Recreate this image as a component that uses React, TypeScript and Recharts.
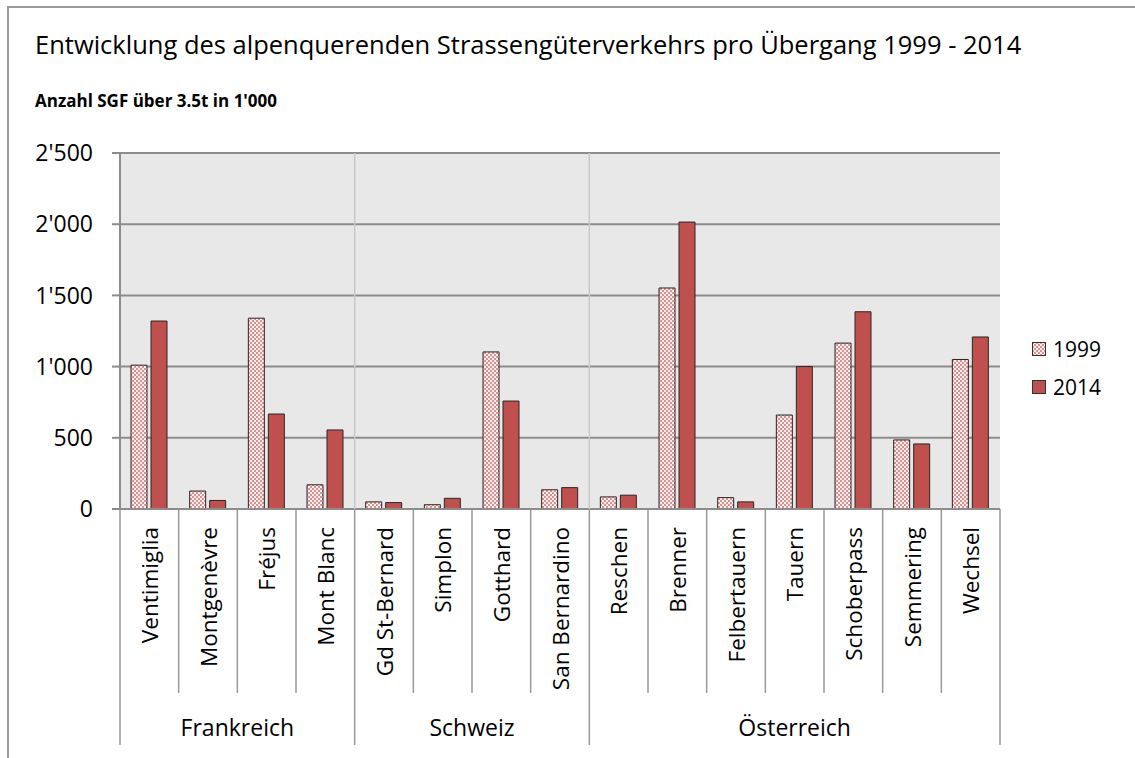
import React from "react";
import { BarChart, Bar, XAxis, YAxis, CartesianGrid, Legend } from "recharts";

const categories = [
  "Ventimiglia", "Montgenèvre", "Fréjus", "Mont Blanc",
  "Gd St-Bernard", "Simplon", "Gotthard", "San Bernardino",
  "Reschen", "Brenner", "Felbertauern", "Tauern", "Schoberpass", "Semmering", "Wechsel",
];
const groups = [
  { name: "Frankreich", size: 4 },
  { name: "Schweiz", size: 4 },
  { name: "Österreich", size: 7 },
];
const values1999 = [1010, 126, 1340, 170, 50, 30, 1103, 135, 85, 1552, 80, 660, 1165, 485, 1050];
const values2014 = [1320, 60, 667, 555, 45, 75, 758, 150, 97, 2015, 50, 1000, 1385, 457, 1208];
const yTicks = [0, 500, 1000, 1500, 2000, 2500];
const seriesNames = ["1999", "2014"];

const data = categories.map((c, i) => ({ name: c, v1999: values1999[i], v2014: values2014[i] }));

const FONT = "'Open Sans', sans-serif";
const W = 1135;
const H = 758;
const LEGEND_W = 100;
const M = { top: 153, right: 135 - LEGEND_W, bottom: 13, left: 40 };
const Y_W = 80;
const X_H = 236;
const PLOT_W = W - M.left - M.right - LEGEND_W - Y_W;
const PLOT_H = H - M.top - M.bottom - X_H;
const BAND = PLOT_W / categories.length;

const groupStarts: Record<number, { name: string; size: number }> = {};
{
  let acc = 0;
  groups.forEach((g) => {
    groupStarts[acc] = g;
    acc += g.size;
  });
}

const fmt = (v: number) => {
  const s = String(v);
  return s.length > 3 ? s.slice(0, s.length - 3) + "'" + s.slice(s.length - 3) : s;
};

const CatTick = (props: any) => {
  const { x, y, payload, index } = props;
  const left = x - BAND / 2;
  const g = groupStarts[index];
  const isLast = index === categories.length - 1;
  return (
    <g>
      <line x1={left} x2={left} y1={y} y2={y + (g ? X_H : 184)} stroke="#999" strokeWidth={1.5} />
      {g && index > 0 && (
        <line x1={left} x2={left} y1={y - PLOT_H} y2={y} stroke="#c8c8c8" strokeWidth={1.5} />
      )}
      {isLast && (
        <line x1={x + BAND / 2} x2={x + BAND / 2} y1={y} y2={y + X_H} stroke="#999" strokeWidth={1.5} />
      )}
      <text
        x={x}
        y={y + 18}
        transform={`rotate(-90, ${x}, ${y + 18})`}
        textAnchor="end"
        dominantBaseline="central"
        fontFamily={FONT}
        fontSize={22.5}
        fill="#000"
      >
        {payload.value}
      </text>
      {g && (
        <text
          x={left + (g.size * BAND) / 2}
          y={y + 218}
          textAnchor="middle"
          dominantBaseline="central"
          fontFamily={FONT}
          fontSize={23}
          fill="#000"
        >
          {g.name}
        </text>
      )}
    </g>
  );
};

const LegendContent = () => (
  <div style={{ fontFamily: FONT, fontSize: 21, color: "#000" }}>
    {seriesNames.map((n, i) => (
      <div key={n} style={{ display: "flex", alignItems: "center", height: 38 }}>
        <svg width={14} height={14} style={{ marginRight: 7 }}>
          <rect x={0.5} y={0.5} width={13} height={13} fill={i === 0 ? "url(#checker)" : "#c0504d"} stroke="#333" strokeWidth={1} />
        </svg>
        <span>{n}</span>
      </div>
    ))}
  </div>
);

export default function App() {
  return (
    <div style={{ position: "fixed", left: 0, top: 0, width: W, height: H, overflow: "hidden", background: "#fff" }}>
      <div
        style={{
          position: "absolute",
          left: 7,
          top: 6,
          width: 1200,
          height: 800,
          borderTop: "2px solid #999",
          borderLeft: "2px solid #999",
        }}
      />
      <div style={{ position: "absolute", left: 35, top: 27, fontFamily: FONT, fontSize: 25.5, color: "#000", whiteSpace: "nowrap" }}>
        Entwicklung des alpenquerenden Strassengüterverkehrs pro Übergang 1999 - 2014
      </div>
      <div style={{ position: "absolute", left: 35, top: 89, fontFamily: FONT, fontSize: 17, fontWeight: 700, color: "#000", whiteSpace: "nowrap" }}>
        Anzahl SGF über 3.5t in 1'000
      </div>
      <div style={{ position: "absolute", left: 0, top: 0 }}>
        <BarChart width={W} height={H} data={data} margin={M} barSize={16} barGap={4}>
          <defs>
            <pattern id="checker" width={4} height={4} patternUnits="userSpaceOnUse">
              <rect width={4} height={4} fill="#fcf0f0" />
              <rect x={0} y={0} width={2} height={2} fill="#e0908e" />
              <rect x={2} y={2} width={2} height={2} fill="#e0908e" />
            </pattern>
          </defs>
          <CartesianGrid vertical={false} stroke="#8c8c8c" strokeWidth={2} fill="#e8e8e8" />
          <XAxis
            dataKey="name"
            height={X_H}
            interval={0}
            tickLine={false}
            tickSize={0}
            tickMargin={0}
            axisLine={{ stroke: "#8c8c8c", strokeWidth: 2 }}
            tick={<CatTick />}
          />
          <YAxis
            width={Y_W}
            domain={[0, 2500]}
            ticks={yTicks}
            tickFormatter={fmt}
            tickSize={8}
            tickMargin={19}
            axisLine={{ stroke: "#8c8c8c", strokeWidth: 2 }}
            tickLine={{ stroke: "#8c8c8c", strokeWidth: 2 }}
            tick={{ fontFamily: FONT, fontSize: 23, fill: "#000" }}
          />
          <Legend
            layout="vertical"
            align="right"
            verticalAlign="top"
            content={<LegendContent />}
            wrapperStyle={{ position: "absolute", left: 1032, top: 330, width: LEGEND_W }}
          />
          <Bar dataKey="v1999" name="1999" fill="url(#checker)" stroke="#262626" strokeWidth={1} isAnimationActive={false} />
          <Bar dataKey="v2014" name="2014" fill="#c0504d" stroke="#262626" strokeWidth={1} isAnimationActive={false} />
        </BarChart>
      </div>
    </div>
  );
}
